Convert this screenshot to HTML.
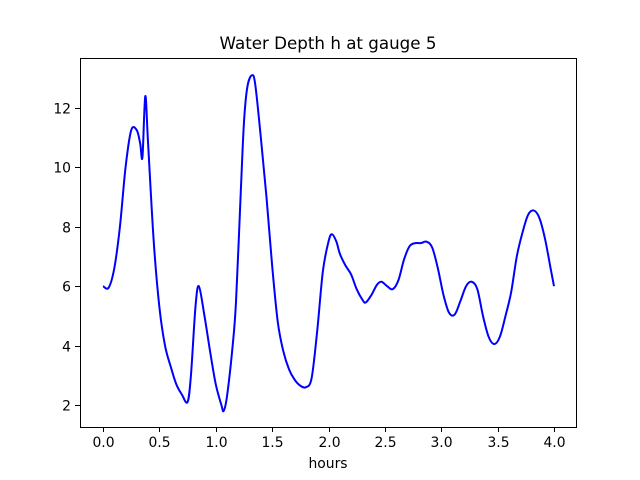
<!DOCTYPE html>
<html><head><style>body{margin:0;background:#fff}svg{display:block}text{font-family:"DejaVu Sans","Liberation Sans",sans-serif;fill:#000}</style></head>
<body>
<svg width="640" height="480" xmlns="http://www.w3.org/2000/svg">
<rect width="640" height="480" fill="#fff"/>
<text x="328" y="49" font-size="16.7" text-anchor="middle">Water Depth h at gauge 5</text>
<g id="ticks" stroke="#000" stroke-width="1"></g>
<g id="labels" font-size="13.9"></g>
<path id="curve" fill="none" stroke="#0000ff" stroke-width="2" stroke-linejoin="round"/>
<rect x="80.5" y="58.5" width="496" height="369" fill="none" stroke="#000" stroke-width="1"/>
<text x="328" y="468" font-size="13.9" text-anchor="middle">hours</text>
</svg>
<script>
var d=[[0,6],[0.05,5.95],[0.1,6.6],[0.15,8],[0.2,10],[0.25,11.25],[0.3,11.25],[0.33,10.8],[0.35,10.35],[0.375,12.4],[0.4,10.8],[0.45,7.5],[0.5,5.3],[0.55,4],[0.6,3.3],[0.65,2.7],[0.7,2.35],[0.75,2.1],[0.78,3],[0.82,5.3],[0.85,6],[0.9,5],[0.95,3.8],[1,2.7],[1.05,2],[1.07,1.8],[1.1,2.3],[1.15,4],[1.18,5.5],[1.22,9],[1.25,11.5],[1.28,12.7],[1.32,13.1],[1.35,12.8],[1.4,11],[1.45,9],[1.5,6.7],[1.55,4.8],[1.6,3.8],[1.65,3.2],[1.7,2.85],[1.75,2.65],[1.8,2.6],[1.85,2.9],[1.9,4.5],[1.95,6.5],[2,7.5],[2.03,7.75],[2.07,7.5],[2.1,7.1],[2.15,6.7],[2.2,6.4],[2.25,5.9],[2.3,5.55],[2.33,5.45],[2.38,5.7],[2.43,6.05],[2.47,6.15],[2.52,6],[2.57,5.9],[2.62,6.2],[2.67,6.9],[2.72,7.35],[2.77,7.45],[2.82,7.45],[2.87,7.5],[2.92,7.3],[2.97,6.6],[3.02,5.7],[3.07,5.1],[3.12,5.05],[3.17,5.5],[3.22,6],[3.27,6.15],[3.32,5.9],[3.37,5],[3.42,4.3],[3.47,4.05],[3.52,4.3],[3.57,5],[3.62,5.8],[3.67,7],[3.72,7.8],[3.77,8.4],[3.82,8.55],[3.87,8.3],[3.92,7.6],[3.97,6.6],[4,6]];
function X(h){return 103+112.75*h}function Y(v){return 405-29.7*(v-2)}
var p=d.map(function(q){return[X(q[0]),Y(q[1])]});
var s="M"+p[0][0]+","+p[0][1];
for(var i=0;i<p.length-1;i++){var p0=p[i-1]||p[i],p1=p[i],p2=p[i+1],p3=p[i+2]||p2;
s+=" C"+(p1[0]+(p2[0]-p0[0])/6)+","+(p1[1]+(p2[1]-p0[1])/6)+" "+(p2[0]-(p3[0]-p1[0])/6)+","+(p2[1]-(p3[1]-p1[1])/6)+" "+p2[0]+","+p2[1];}
document.getElementById("curve").setAttribute("d",s);
var t="",l="";
for(var k=0;k<=8;k++){var h=k*0.5,x=Math.round(X(h))+0.5;t+='<line x1="'+x+'" y1="427" x2="'+x+'" y2="432"/>';l+='<text x="'+x+'" y="447" text-anchor="middle">'+h.toFixed(1)+'</text>';}
for(var v=2;v<=12;v+=2){var y=Math.round(Y(v))+0.5;t+='<line x1="75" y1="'+y+'" x2="80" y2="'+y+'"/>';l+='<text x="71" y="'+(y+5)+'" text-anchor="end">'+v+'</text>';}
document.getElementById("ticks").innerHTML=t;document.getElementById("labels").innerHTML=l;
</script>
</body></html>
